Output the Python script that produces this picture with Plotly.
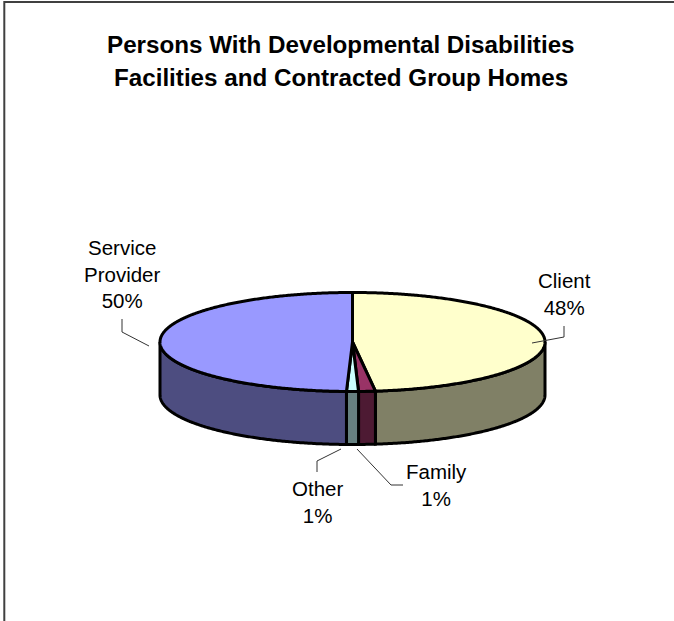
import numpy as np
import plotly.graph_objects as go

# Share of persons by who holds the responsibility, clockwise from twelve o'clock
categories = ["Client", "Family", "Other", "Service Provider"]
shares = [48.1, 1.4, 1.0, 49.5]
top_colors = ["#FFFFCC", "#993366", "#CCFFFF", "#9999FF"]
side_colors = ["#808066", "#4D1A33", "#668080", "#4D4D80"]
title_lines = ["Persons With Developmental Disabilities",
               "Facilities and Contracted Group Homes"]
label_lines = [["Client"], ["Family"], ["Other"], ["Service", "Provider"]]

# Pie geometry in page pixels
W, H = 674, 621
CX, CY = 352.5, 342
RX, RY = 192.5, 49.5
DEPTH = 53
OUTLINE = 3


def rim(theta_deg, drop=0.0):
    t = np.radians(theta_deg)
    return CX + RX * np.sin(t), CY - RY * np.cos(t) + drop


def arc(a, b, drop=0.0):
    n = max(2, int(abs(b - a) * 2) + 2)
    return rim(np.linspace(a, b, n), drop)


fractions = np.array(shares) / sum(shares)
edges = np.concatenate([[0.0], np.cumsum(fractions) * 360.0])
fig = go.Figure()


def add_face(xs, ys, color):
    fig.add_trace(go.Scatter(
        x=list(xs), y=list(ys), mode="lines", fill="toself", fillcolor=color,
        line=dict(color="black", width=OUTLINE, simplify=False),
        hoverinfo="skip", showlegend=False))


# Outer wall, only where the rim faces the viewer
for a, b, color in zip(edges[:-1], edges[1:], side_colors):
    lo, hi = max(a, 90.0), min(b, 270.0)
    if hi <= lo:
        continue
    tx, ty = arc(lo, hi)
    bx, by = arc(hi, lo, DEPTH)
    add_face(np.concatenate([tx, bx, tx[:1]]), np.concatenate([ty, by, ty[:1]]), color)

# Top face wedges
for a, b, color in zip(edges[:-1], edges[1:], top_colors):
    ax, ay = arc(a, b)
    add_face(np.concatenate([[CX], ax, [CX]]), np.concatenate([[CY], ay, [CY]]), color)

# Chart frame: only the upper and left edges are ruled
fig.add_trace(go.Scatter(x=[4.3, 4.3, W], y=[H, 2, 2], mode="lines",
                         line=dict(color="#404040", width=2),
                         hoverinfo="skip", showlegend=False))

# Data label leader lines
leaders = [
    ([532, 564, 564], [343, 337, 326]),
    ([357, 391, 403], [449, 485, 485]),
    ([341, 317, 317], [449, 461, 472]),
    ([149, 122, 122], [346, 332, 319]),
]
for lx, ly in leaders:
    fig.add_trace(go.Scatter(x=lx, y=ly, mode="lines", line=dict(color="#333333", width=1),
                             hoverinfo="skip", showlegend=False))

# Data labels: name above rounded percentage
label_pos = [(564, 294), (436, 485), (317, 502), (122, 274)]
for lines, share, (px, py) in zip(label_lines, fractions * 100, label_pos):
    text = "<br>".join(lines + [f"{round(share)}%"])
    fig.add_annotation(x=px, y=py, text=text, showarrow=False, xanchor="center", yanchor="middle",
                       font=dict(family="Liberation Sans", size=20.5, color="black"))

# Two-line title, each line placed on its own baseline
for line, py in zip(title_lines, [44.5, 77.5]):
    fig.add_annotation(x=341, y=py, text=f"<b>{line}</b>", showarrow=False,
                       xanchor="center", yanchor="middle",
                       font=dict(family="Liberation Sans", size=24.2, color="black"))

fig.update_layout(
    width=W, height=H, margin=dict(l=0, r=0, t=0, b=0),
    paper_bgcolor="white", plot_bgcolor="white", showlegend=False,
    xaxis=dict(range=[0, W], visible=False, fixedrange=True),
    yaxis=dict(range=[H, 0], visible=False, fixedrange=True),
)
fig.write_html("out.html", config={"displayModeBar": False})
